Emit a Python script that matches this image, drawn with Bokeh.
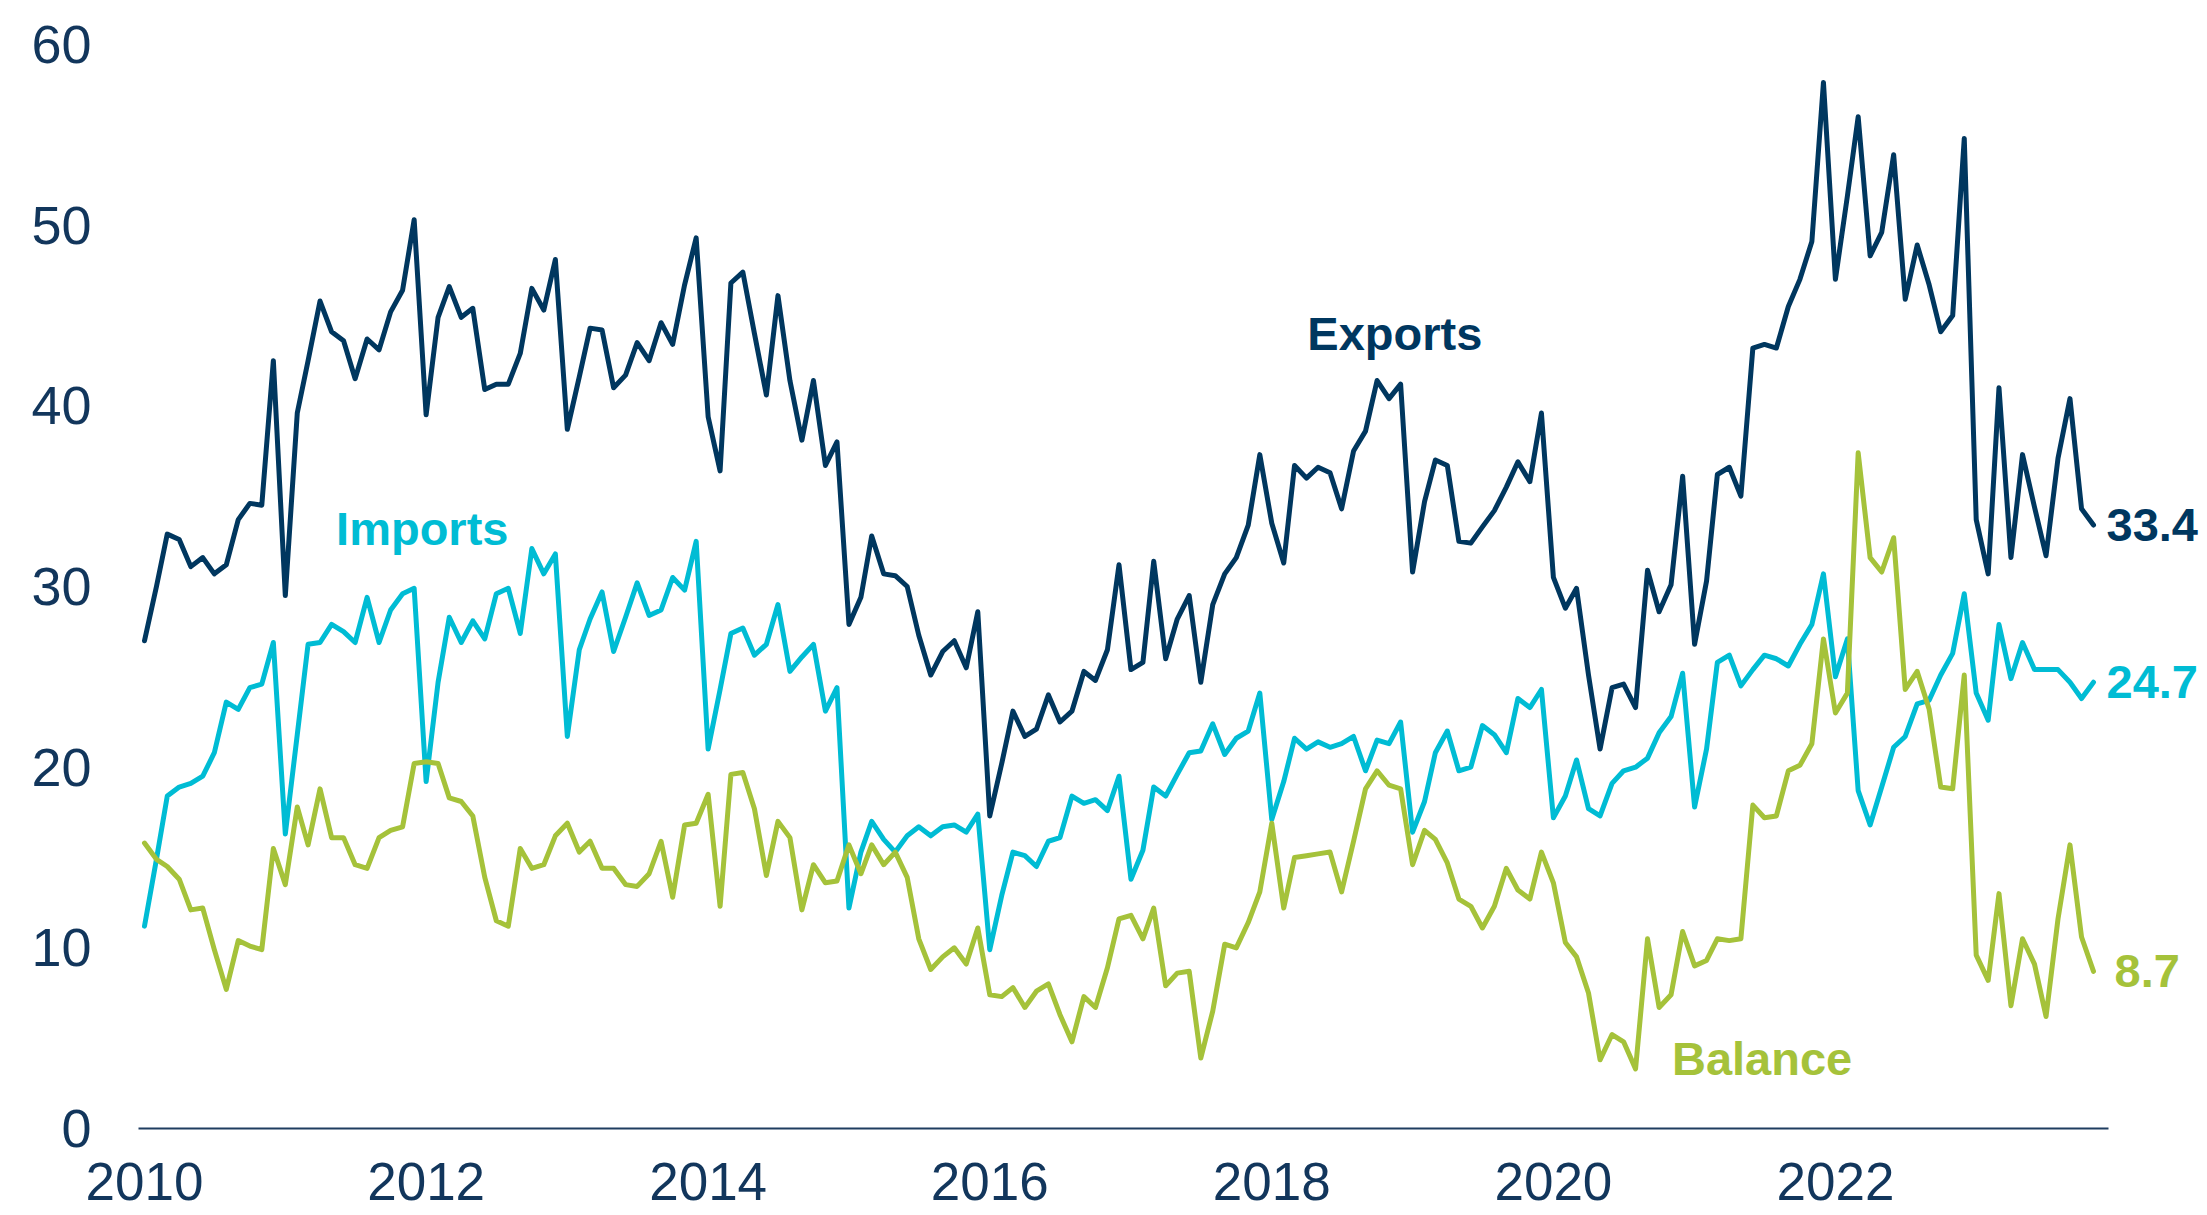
import pandas as pd
from bokeh.plotting import figure
from bokeh.models import ColumnDataSource, Range1d, Label
from bokeh.core.properties import value
from bokeh.embed import file_html
from bokeh.resources import INLINE

# ---------------- data (monthly, from Jan 2010) ----------------
first_month = "2010-01-01"

exports = [
    27.0, 30.0, 32.9, 32.6, 31.1, 31.6, 30.7, 31.2, 33.7, 34.6, 34.5, 42.5,  # 2010
    29.5, 39.6, 42.5, 45.8, 44.1, 43.6, 41.5, 43.7, 43.1, 45.2, 46.4, 50.3,  # 2011
    39.5, 44.9, 46.6, 44.9, 45.4, 40.9, 41.2, 41.2, 42.9, 46.5, 45.3, 48.1,  # 2012
    38.7, 41.6, 44.3, 44.2, 41.0, 41.7, 43.5, 42.5, 44.6, 43.4, 46.7, 49.3,  # 2013
    39.4, 36.4, 46.8, 47.4, 44.0, 40.6, 46.1, 41.4, 38.1, 41.4, 36.7, 38.0,  # 2014
    27.9, 29.4, 32.8, 30.7, 30.6, 30.0, 27.3, 25.1, 26.4, 27.0, 25.5, 28.6,  # 2015
    17.3, 20.2, 23.1, 21.7, 22.1, 24.0, 22.5, 23.1, 25.3, 24.8, 26.5, 31.2,  # 2016
    25.4, 25.8, 31.4, 26.0, 28.2, 29.5, 24.7, 29.0, 30.7, 31.6, 33.4, 37.3,  # 2017
    33.5, 31.3, 36.7, 36.0, 36.6, 36.3, 34.3, 37.5, 38.6, 41.4, 40.4, 41.2,  # 2018
    30.8, 34.7, 37.0, 36.7, 32.5, 32.4, 33.3, 34.2, 35.5, 36.9, 35.8, 39.6,  # 2019
    30.5, 28.8, 29.9, 25.1, 21.0, 24.4, 24.6, 23.3, 30.9, 28.6, 30.1, 36.1,  # 2020
    26.8, 30.3, 36.2, 36.6, 35.0, 43.2, 43.4, 43.2, 45.5, 47.0, 49.1, 57.9,  # 2021
    47.0, 51.6, 56.0, 48.3, 49.6, 53.9, 45.9, 48.9, 46.7, 44.1, 45.0, 54.8,  # 2022
    33.7, 30.7, 41.0, 31.6, 37.3, 34.4, 31.7, 37.1, 40.4, 34.3, 33.4,        # 2023
]

imports = [
    11.2, 14.9, 18.4, 18.9, 19.1, 19.5, 20.8, 23.6, 23.2, 24.4, 24.6, 26.9,  # 2010
    16.3, 21.8, 26.8, 26.9, 27.9, 27.5, 26.9, 29.4, 26.9, 28.7, 29.6, 29.9,  # 2011
    19.2, 24.7, 28.3, 26.9, 28.1, 27.1, 29.6, 29.9, 27.4, 32.1, 30.7, 31.8,  # 2012
    21.7, 26.5, 28.2, 29.7, 26.4, 28.3, 30.2, 28.4, 28.7, 30.5, 29.8, 32.5,  # 2013
    21.0, 24.3, 27.4, 27.7, 26.2, 26.8, 29.0, 25.3, 26.1, 26.8, 23.1, 24.4,  # 2014
    12.2, 15.3, 17.0, 16.0, 15.3, 16.2, 16.7, 16.2, 16.7, 16.8, 16.4, 17.4,  # 2015
    9.9, 12.9, 15.3, 15.1, 14.5, 15.9, 16.1, 18.4, 18.0, 18.2, 17.6, 19.5,   # 2016
    13.8, 15.4, 18.9, 18.4, 19.6, 20.8, 20.9, 22.4, 20.7, 21.6, 22.0, 24.1,  # 2017
    17.1, 19.2, 21.6, 21.0, 21.4, 21.1, 21.3, 21.7, 19.8, 21.5, 21.3, 22.5,  # 2018
    16.4, 18.1, 20.8, 22.0, 19.8, 20.0, 22.3, 21.8, 20.8, 23.8, 23.3, 24.3,  # 2019
    17.2, 18.4, 20.4, 17.7, 17.3, 19.1, 19.8, 20.0, 20.5, 21.9, 22.8, 25.2,  # 2020
    17.8, 21.0, 25.8, 26.2, 24.5, 25.4, 26.2, 26.0, 25.6, 26.8, 27.9, 30.7,  # 2021
    25.0, 27.1, 18.7, 16.8, 18.9, 21.1, 21.7, 23.5, 23.7, 25.1, 26.3, 29.6,  # 2022
    24.1, 22.6, 27.9, 24.9, 26.9, 25.4, 25.4, 25.4, 24.7, 23.8, 24.7,        # 2023
]

balance = [
    15.8, 14.9, 14.5, 13.8, 12.1, 12.2, 9.9, 7.7, 10.4, 10.1, 9.9, 15.5,     # 2010
    13.5, 17.8, 15.7, 18.8, 16.1, 16.1, 14.6, 14.4, 16.1, 16.5, 16.7, 20.2,  # 2011
    20.3, 20.2, 18.3, 18.1, 17.3, 13.9, 11.5, 11.2, 15.5, 14.4, 14.6, 16.2,  # 2012
    16.9, 15.3, 15.9, 14.4, 14.4, 13.5, 13.4, 14.1, 15.9, 12.8, 16.8, 16.9,  # 2013
    18.5, 12.3, 19.6, 19.7, 17.7, 14.0, 17.0, 16.1, 12.1, 14.6, 13.6, 13.7,  # 2014
    15.7, 14.1, 15.7, 14.6, 15.3, 13.9, 10.5, 8.8, 9.5, 10.0, 9.1, 11.1,     # 2015
    7.4, 7.3, 7.8, 6.7, 7.6, 8.0, 6.3, 4.8, 7.3, 6.7, 8.9, 11.6,             # 2016
    11.8, 10.5, 12.2, 7.9, 8.6, 8.7, 3.9, 6.5, 10.2, 10.0, 11.4, 13.1,       # 2017
    16.9, 12.2, 15.0, 15.1, 15.2, 15.3, 13.1, 15.9, 18.8, 19.8, 19.0, 18.8,  # 2018
    14.6, 16.5, 16.0, 14.7, 12.7, 12.3, 11.1, 12.3, 14.4, 13.2, 12.7, 15.3,  # 2019
    13.6, 10.3, 9.5, 7.5, 3.8, 5.2, 4.8, 3.3, 10.5, 6.7, 7.4, 10.9,          # 2020
    9.0, 9.3, 10.5, 10.4, 10.5, 17.9, 17.2, 17.3, 19.8, 20.1, 21.3, 27.1,    # 2021
    23.0, 24.1, 37.4, 31.6, 30.8, 32.7, 24.3, 25.3, 23.2, 18.9, 18.8, 25.1,  # 2022
    9.6, 8.2, 13.0, 6.8, 10.5, 9.1, 6.2, 11.6, 15.7, 10.6, 8.7,              # 2023
]

series_names = ["Exports", "Imports", "Balance"]
tick_years = [2010, 2012, 2014, 2016, 2018, 2020, 2022]
y_ticks = [0, 10, 20, 30, 40, 50, 60]

# ---------------- styling / layout (pixels) ----------------
NAVY = "#00375F"
CYAN = "#00BCD4"
GREEN = "#A5C23A"
AXIS_TEXT = "#12365C"
FONT = "Liberation Sans"

W, H = 2207, 1215
AXIS_START_PX = 138       # where the baseline starts
FIRST_PT_PX = 144         # x pixel of first month
LAST_PT_PX = 2093         # x pixel of last month
AXIS_END_PX = 2108        # where the baseline ends
Y_ZERO_PX = 1128          # pixel of value 0
Y_TOP_PX = 44             # pixel of value 60
YEAR_LABEL_PX = 1181      # centre of the year labels
VALUE_LABEL_RIGHT_PX = 91 # right edge of the value-axis labels


def ms(ts):
    return pd.Timestamp(ts).value / 1e6


dates = pd.date_range(first_month, periods=len(exports), freq="MS")
source = ColumnDataSource(dict(date=dates, exports=exports, imports=imports, balance=balance))

t0, t1 = ms(dates[0]), ms(dates[-1])
px_per_ms = (LAST_PT_PX - FIRST_PT_PX) / (t1 - t0)
x_start = t0 - FIRST_PT_PX / px_per_ms
x_end = t1 + (W - LAST_PT_PX) / px_per_ms
axis_start = t0 - (FIRST_PT_PX - AXIS_START_PX) / px_per_ms
axis_end = t1 + (AXIS_END_PX - LAST_PT_PX) / px_per_ms
value_label_x = t0 - (FIRST_PT_PX - VALUE_LABEL_RIGHT_PX) / px_per_ms

px_per_unit = (Y_ZERO_PX - Y_TOP_PX) / 60.0
y_end = 60 + Y_TOP_PX / px_per_unit
y_start = -(H - Y_ZERO_PX) / px_per_unit
year_label_y = -(YEAR_LABEL_PX - Y_ZERO_PX) / px_per_unit

p = figure(
    width=W, height=H,
    x_range=Range1d(x_start, x_end), y_range=Range1d(y_start, y_end),
    x_axis_location=None, y_axis_location=None,
    output_backend="svg", toolbar_location=None,
    min_border_left=0, min_border_right=0, min_border_top=0, min_border_bottom=0,
)
p.background_fill_color = "white"
p.border_fill_color = "white"
p.outline_line_color = None
p.xgrid.visible = False
p.ygrid.visible = False

# baseline (category axis line)
p.segment(x0=[axis_start], y0=[0], x1=[axis_end], y1=[0], line_color="#1F3D60", line_width=2)

# series lines
p.line("date", "exports", source=source, line_color=NAVY, line_width=5, line_join="round", line_cap="round")
p.line("date", "imports", source=source, line_color=CYAN, line_width=5, line_join="round", line_cap="round")
p.line("date", "balance", source=source, line_color=GREEN, line_width=5, line_join="round", line_cap="round")

# year tick labels below the baseline
p.text(x=[ms(f"{y}-01-01") for y in tick_years], y=[year_label_y] * len(tick_years),
       text=[str(y) for y in tick_years], text_align="center", text_baseline="middle",
       text_font=value(FONT), text_font_size="53px", text_color=AXIS_TEXT)

# value tick labels on the left
p.text(x=[value_label_x] * len(y_ticks), y=y_ticks,
       text=[str(v) for v in y_ticks], text_align="right", text_baseline="middle",
       text_font=value(FONT), text_font_size="54px", text_color=AXIS_TEXT)

# series name labels
name_pos = [("2018-11-16", 44.0, NAVY), ("2011-12-22", 33.2, CYAN), ("2021-06-25", 3.9, GREEN)]
for name, (d, yv, col) in zip(series_names, name_pos):
    p.add_layout(Label(x=ms(d), y=yv, text=name, text_align="center", text_baseline="middle",
                       text_font=FONT, text_font_size="47px", text_font_style="bold", text_color=col))

# end-value labels
for arr, col, dx in [(exports, NAVY, 13), (imports, CYAN, 13), (balance, GREEN, 21)]:
    p.add_layout(Label(x=t1, y=arr[-1], x_offset=dx, text=f"{arr[-1]:.1f}",
                       text_align="left", text_baseline="middle",
                       text_font=FONT, text_font_size="47px", text_font_style="bold", text_color=col))

open("out.html", "w").write(file_html(p, INLINE))
